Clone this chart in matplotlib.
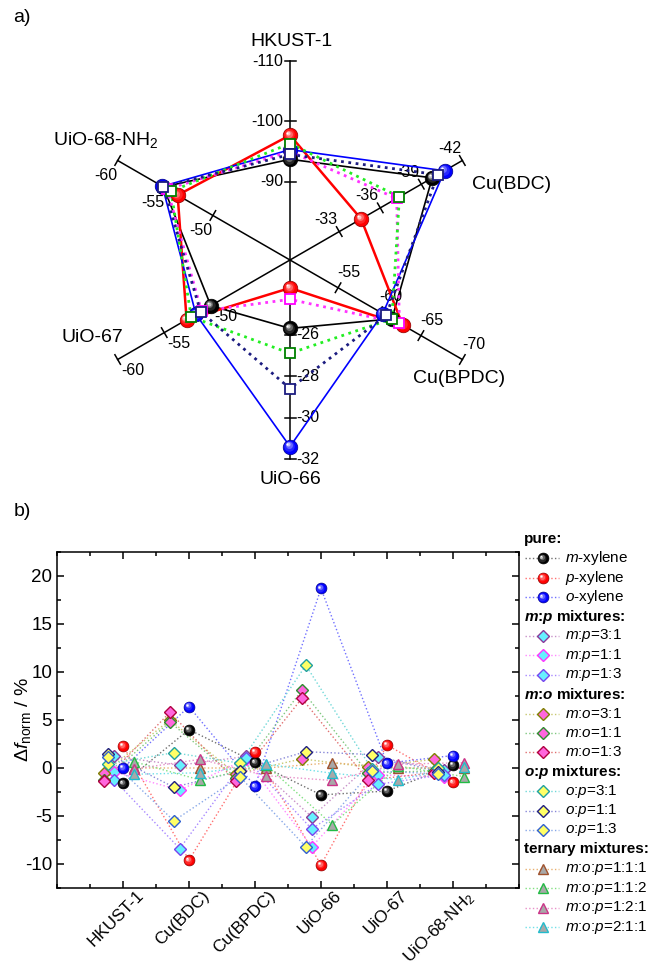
import numpy as np
import matplotlib
matplotlib.use('Agg')
import matplotlib.pyplot as plt
import matplotlib.colors as mcolors
from matplotlib.transforms import offset_copy, ScaledTranslation
from matplotlib.ticker import MultipleLocator

plt.rcParams['font.family'] = ['Liberation Sans', 'DejaVu Sans']
plt.rcParams['mathtext.fontset'] = 'custom'
plt.rcParams['mathtext.rm'] = 'Liberation Sans'
plt.rcParams['mathtext.it'] = 'Liberation Sans:italic'
plt.rcParams['mathtext.bf'] = 'Liberation Sans:bold'
plt.rcParams['mathtext.bfit'] = 'Liberation Sans:bold:italic'
plt.rcParams['axes.unicode_minus'] = False

# ------------------------------------------------------------------ data
mofs = ['HKUST-1', 'Cu(BDC)', 'Cu(BPDC)', 'UiO-66', 'UiO-67', 'UiO-68-NH$_2$']

# radar (a): axis ranges (value at centre, value at end) and ticks
radar_center = [-77.0, -29.4, -49.2, -22.4, -41.5, -41.9]
radar_end = [-110.0, -42.0, -70.0, -32.0, -60.0, -60.0]
radar_ticks = [[-90, -100, -110], [-33, -36, -39, -42], [-55, -60, -65, -70],
               [-26, -28, -30, -32], [-50, -55, -60], [-50, -55, -60]]
radar_m = [-93.7, -39.8, -61.5, -25.7, -50.0, -55.2]
radar_p = [-97.7, -34.6, -62.8, -23.75, -52.6, -53.7]
radar_o = [-95.3, -40.7, -60.4, -31.4, -51.6, -55.3]
radar_sq_magenta = [-95.0, -37.2, -62.4, -24.3, -51.0, -54.8]
radar_sq_green = [-96.3, -37.4, -61.5, -26.9, -52.1, -54.4]
radar_sq_navy = [-94.5, -40.2, -60.8, -28.6, -51.1, -55.2]

# panel (b): normalised frequency change / %
pure_m = [-1.6, 4.0, 0.6, -2.8, -2.4, 0.3]
pure_p = [2.3, -9.6, 1.7, -10.1, 2.4, -1.5]
pure_o = [0.0, 6.4, -1.9, 18.7, 0.5, 1.3]
mp_31 = [1.2, 0.3, 1.2, -5.1, 1.1, -0.2]
mp_11 = [-0.4, -2.3, 0.9, -8.2, -0.7, -0.95]
mp_13 = [-1.2, -8.4, 1.0, -6.35, -1.7, -0.7]
mo_31 = [-0.55, 5.0, -0.6, 0.95, 0.1, 0.9]
mo_11 = [-1.25, 4.8, -1.0, 8.1, -0.5, -0.3]
mo_13 = [-1.35, 5.8, -1.4, 7.25, -1.25, -0.5]
op_31 = [0.4, 1.6, 0.5, 10.7, -0.1, 0.0]
op_11 = [1.5, -2.0, -0.3, 1.7, 1.4, -0.4]
op_13 = [1.1, -5.5, -0.9, -8.2, -0.3, -0.6]
t_111 = [0.0, 0.0, 0.0, 0.55, 0.0, 0.0]
t_112 = [0.65, -1.25, 0.3, -5.9, 0.2, -0.9]
t_121 = [-0.1, 0.9, -0.8, -1.3, 0.4, 0.55]
t_211 = [-0.65, -0.5, 0.4, -0.55, -1.2, 0.15]

# ------------------------------------------------------------------ helpers
fig = plt.figure(figsize=(6.53, 9.65), dpi=100)


def draw_spheres(ax, x, y, color, ms, zorder, transform=None):
    base = np.array(mcolors.to_rgb(color))
    edge = tuple(base * 0.55)
    tb = ax.transData if transform is None else transform
    ax.plot(x, y, ls='none', marker='o', ms=ms, mfc=color, mec=edge, mew=0.5,
            zorder=zorder, transform=tb)
    for frac, w, off in [(0.72, 0.15, 0.05), (0.48, 0.4, 0.1), (0.28, 0.75, 0.15), (0.13, 1.0, 0.18)]:
        c = tuple(base + (1 - base) * w)
        tr = offset_copy(tb, fig=fig, x=-off * ms, y=off * ms, units='points')
        ax.plot(x, y, ls='none', marker='o', ms=ms * frac, mfc=c, mec='none',
                transform=tr, zorder=zorder + 0.01)


# ------------------------------------------------------------------ (a) radar
R = 199.0
cx, cy = 290.0, 260.0
ax_r = fig.add_axes([0, 1 - 500 / 965, 1, 500 / 965])
ax_r.set_xlim(-cx / R, (653 - cx) / R)
ax_r.set_ylim(-(500 - cy) / R, cy / R)
ax_r.axis('off')
angles = np.deg2rad([90, 30, -30, -90, -150, 150])
cvals = np.array(radar_center)
evals = np.array(radar_end)


def radar_xy(vals):
    r = (np.asarray(vals, float) - cvals) / (evals - cvals)
    return r * np.cos(angles), r * np.sin(angles)


tick_off = [(-7, 0, 'right'), (-13, 12, 'center'), (11, 15, 'center'),
            (6, 0, 'left'), (15, -11, 'center'), (-12, -15, 'center')]
name_off = [(2, 19, 'center'), (10, -24, 'left'), (-3, -19, 'center'),
            (0, -20, 'center'), (-25, 22, 'center'), (-12, 20, 'center')]
h = 5.5 / R
for i, th in enumerate(angles):
    ct, st = np.cos(th), np.sin(th)
    ax_r.plot([0, ct], [0, st], color='black', lw=1.1, zorder=1)
    for t in radar_ticks[i]:
        rr = (t - cvals[i]) / (evals[i] - cvals[i])
        px, py = rr * ct, rr * st
        ax_r.plot([px - h * (-st), px + h * (-st)], [py - h * ct, py + h * ct],
                  color='black', lw=1.1, zorder=1)
        dx, dy, ha = tick_off[i]
        ax_r.annotate(f"{t:d}", (px, py), xytext=(dx, dy), textcoords='offset pixels',
                      ha=ha, va='center', fontsize=11.5)
    dx, dy, ha = name_off[i]
    ax_r.annotate(mofs[i], (ct, st), xytext=(dx, dy), textcoords='offset pixels',
                  ha=ha, va='center', fontsize=14)


def closed(a):
    return np.append(a, a[0])


for vals, col, lw in [(radar_m, 'black', 1.2), (radar_p, '#FF0000', 1.8), (radar_o, '#0000FF', 1.2)]:
    x, y = radar_xy(vals)
    ax_r.plot(closed(x), closed(y), '-', color=col, lw=lw, zorder=3)
for vals, col in [(radar_sq_magenta, '#FF33FF'), (radar_sq_green, '#22EE22'), (radar_sq_navy, '#1C1C80')]:
    x, y = radar_xy(vals)
    ax_r.plot(closed(x), closed(y), ls=':', color=col, lw=2.0, zorder=3)
for vals, col in [(radar_m, 'black'), (radar_p, '#FF0000'), (radar_o, '#0000FF')]:
    x, y = radar_xy(vals)
    draw_spheres(ax_r, x, y, col, 10.5, 5)
for vals, col in [(radar_sq_magenta, '#FF00FF'), (radar_sq_green, '#008000'), (radar_sq_navy, '#1C1C80')]:
    x, y = radar_xy(vals)
    ax_r.plot(x, y, ls='none', marker='s', ms=7.5, mfc='white', mec=col, mew=1.3, zorder=6)

fig.text(22 / 653, 1 - 18 / 965, 'a)', fontsize=14, ha='center', va='center')
fig.text(22 / 653, 1 - 512 / 965, 'b)', fontsize=14, ha='center', va='center')

# ------------------------------------------------------------------ (b)
ax = fig.add_axes([57 / 653, 1 - 888 / 965, 462 / 653, 336 / 965])
ax.set_xlim(0, 7)
ax.set_ylim(-12.5, 22.5)
pos = np.arange(1, 7)

series = [
    # label, values, offset, marker, face, edge, line colour
    (r'$m$-xylene', pure_m, 0.0, 'sphere', 'black', 'black', '#707070'),
    (r'$p$-xylene', pure_p, 0.0, 'sphere', '#FF0000', '#FF0000', '#FF7070'),
    (r'$o$-xylene', pure_o, 0.0, 'sphere', '#0000FF', '#0000FF', '#7070FF'),
    (r'$m$:$p$=3:1', mp_31, -0.14, 'D', '#66F0FF', '#8A3A9A', '#C890C8'),
    (r'$m$:$p$=1:1', mp_11, -0.14, 'D', '#66F0FF', '#FF33FF', '#FF88FF'),
    (r'$m$:$p$=1:3', mp_13, -0.14, 'D', '#66F0FF', '#7744EE', '#A888FF'),
    (r'$m$:$o$=3:1', mo_31, -0.29, 'D', '#FF66DD', '#808000', '#C8C870'),
    (r'$m$:$o$=1:1', mo_11, -0.29, 'D', '#FF66DD', '#2E8B2E', '#80C880'),
    (r'$m$:$o$=1:3', mo_13, -0.29, 'D', '#FF66DD', '#B00040', '#E07070'),
    (r'$o$:$p$=3:1', op_31, -0.23, 'D', '#FFFF66', '#20A0A0', '#70D8D8'),
    (r'$o$:$p$=1:1', op_11, -0.23, 'D', '#FFFF66', '#202080', '#8888D8'),
    (r'$o$:$p$=1:3', op_13, -0.23, 'D', '#FFFF66', '#3060D0', '#88A8E8'),
    (r'$m$:$o$:$p$=1:1:1', t_111, 0.17, '^', '#A8A8A8', '#A0522D', '#E8B070'),
    (r'$m$:$o$:$p$=1:1:2', t_112, 0.17, '^', '#A8A8A8', '#22BB44', '#80E080'),
    (r'$m$:$o$:$p$=1:2:1', t_121, 0.17, '^', '#A8A8A8', '#CC3388', '#E890C8'),
    (r'$m$:$o$:$p$=2:1:1', t_211, 0.17, '^', '#A8A8A8', '#22BBCC', '#70E0E8'),
]

for lab, vals, off, mk, fc, ec, lc in series:
    ax.plot(pos + off, vals, ls=':', color=lc, lw=1.0, zorder=2)
for lab, vals, off, mk, fc, ec, lc in series:
    if mk == 'sphere':
        draw_spheres(ax, pos + off, vals, fc, 7.8, 6)
    else:
        ax.plot(pos + off, vals, ls='none', marker=mk, ms=6.2 if mk == 'D' else 7.0,
                mfc=fc, mec=ec, mew=1.0, zorder=4)

ax.xaxis.set_minor_locator(MultipleLocator(0.5))
ax.yaxis.set_major_locator(MultipleLocator(5))
ax.yaxis.set_minor_locator(MultipleLocator(2.5))
ax.tick_params(which='both', direction='in', top=True, right=True, width=1.1)
ax.tick_params(which='major', length=5)
ax.tick_params(which='minor', length=3)
ax.tick_params(axis='y', labelsize=13.5)
ax.tick_params(axis='x', pad=2)
ax.set_xticks(pos)
ax.set_xticklabels(mofs, rotation=45, ha='right', va='top', rotation_mode='anchor', fontsize=12.3)
for lab in ax.get_xticklabels():
    lab.set_transform(lab.get_transform() + ScaledTranslation(0.13, 0.03, fig.dpi_scale_trans))
for s in ax.spines.values():
    s.set_linewidth(1.1)
ax.set_ylabel(r'$\Delta f_{\mathrm{norm}}$ / %', fontsize=14)
ax.yaxis.set_label_coords(-0.052, 0.5)

# ------------------------------------------------------------------ legend
ax_l = fig.add_axes([0, 0, 1, 1], zorder=10)
ax_l.set_xlim(0, 653)
ax_l.set_ylim(965, 0)
ax_l.axis('off')
headers = {0: 'pure:', 4: r'$\mathbfit{m}$:$\mathbfit{p}$ mixtures:',
           8: r'$\mathbfit{m}$:$\mathbfit{o}$ mixtures:',
           12: r'$\mathbfit{o}$:$\mathbfit{p}$ mixtures:', 16: 'ternary mixtures:'}
row_h = 19.4
y0 = 539
k = 0
for row in range(21):
    yy = y0 + row_h * row
    if row in headers:
        ax_l.text(524, yy, headers[row], fontsize=11, fontweight='bold', ha='left', va='center')
        continue
    if k >= len(series):
        break
    lab, vals, off, mk, fc, ec, lc = series[k]
    k += 1
    ax_l.plot([525, 559], [yy, yy], ls=':', color=lc, lw=1.0)
    if mk == 'sphere':
        draw_spheres(ax_l, [543], [yy], fc, 7.8, 12)
    else:
        ax_l.plot([543], [yy], ls='none', marker=mk, ms=6.2 if mk == 'D' else 7.0,
                  mfc=fc, mec=ec, mew=1.0, zorder=12)
    ax_l.text(565, yy, lab, fontsize=11, ha='left', va='center')

fig.savefig('out.png', dpi=100)
